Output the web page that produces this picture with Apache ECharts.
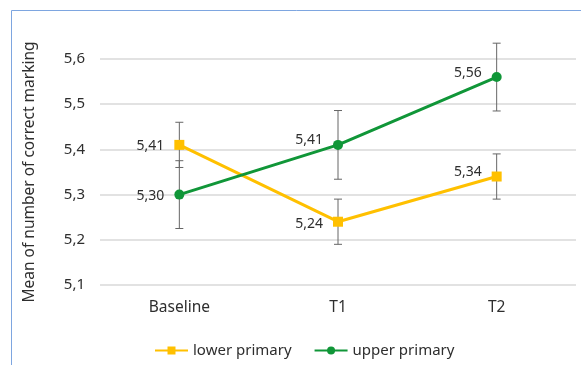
<!DOCTYPE html>
<html>
<head>
<meta charset="utf-8">
<script src="https://cdn.jsdelivr.net/npm/echarts@6/dist/echarts.min.js"></script>
<style>
  html, body { margin: 0; padding: 0; background: #fff; }
  #chart { width: 581px; height: 365px; }
</style>
</head>
<body>
<div id="chart"></div>
<script>
// Time points of the measurement
const categories = ['Baseline', 'T1', 'T2'];

// Group means and their error-bar half widths
const lowerPrimary = [5.41, 5.24, 5.34];
const lowerPrimaryErr = [0.05, 0.05, 0.05];
const upperPrimary = [5.30, 5.41, 5.56];
const upperPrimaryErr = [0.075, 0.076, 0.075];

const seriesNames = ['lower primary', 'upper primary'];
const yTicks = { min: 5.1, max: 5.6, interval: 0.1 };

const YELLOW = '#FFC000';
const GREEN = '#109638';
const TEXT = '#2e2e2e';
const FONT = 'Noto Sans';

const fmt = (v, d) => v.toFixed(d).replace('.', ',');

function errorBars(means, errs) {
  return means.map((m, i) => [i, m - errs[i], m + errs[i]]);
}

function renderErrorBar(params, api) {
  const x = api.value(0);
  const lo = api.coord([x, api.value(1)]);
  const hi = api.coord([x, api.value(2)]);
  const cap = 4;
  const style = { stroke: '#666666', lineWidth: 1 };
  return {
    type: 'group',
    children: [
      { type: 'line', shape: { x1: hi[0], y1: hi[1], x2: lo[0], y2: lo[1] }, style },
      { type: 'line', shape: { x1: hi[0] - cap, y1: hi[1], x2: hi[0] + cap, y2: hi[1] }, style },
      { type: 'line', shape: { x1: lo[0] - cap, y1: lo[1], x2: lo[0] + cap, y2: lo[1] }, style }
    ]
  };
}

const labelStyle = {
  show: true,
  position: 'left',
  distance: 10,
  color: TEXT,
  fontFamily: FONT,
  fontSize: 14,
  formatter: p => fmt(p.value, 2)
};

function lineSeries(name, values, color, symbol, labelOffsets) {
  return {
    name,
    type: 'line',
    z: 3,
    data: values.map((v, i) => ({
      value: v,
      label: { offset: labelOffsets[i] }
    })),
    symbol,
    symbolSize: 10,
    lineStyle: { color, width: 3 },
    itemStyle: { color },
    label: labelStyle,
    emphasis: { disabled: true }
  };
}

const chart = echarts.init(document.getElementById('chart'), null, { renderer: 'canvas' });

chart.setOption({
  animation: false,
  backgroundColor: '#ffffff',
  grid: { left: 100, right: 5, top: 59, bottom: 80 },
  legend: {
    data: seriesNames,
    left: 149,
    top: 338,
    itemWidth: 33,
    itemHeight: 10,
    itemGap: 22,
    textStyle: { color: TEXT, fontFamily: FONT, fontSize: 15 }
  },
  xAxis: {
    type: 'category',
    data: categories,
    boundaryGap: true,
    axisLine: { show: false },
    axisTick: { show: false },
    axisLabel: { color: TEXT, fontFamily: FONT, fontSize: 15.5, margin: 15 }
  },
  yAxis: {
    type: 'value',
    min: yTicks.min,
    max: yTicks.max,
    interval: yTicks.interval,
    name: 'Mean of number of correct marking',
    nameLocation: 'middle',
    nameGap: 62,
    nameTextStyle: { color: TEXT, fontFamily: FONT, fontSize: 15.5 },
    axisLine: { show: false },
    axisTick: { show: false },
    axisLabel: {
      color: TEXT, fontFamily: FONT, fontSize: 15, margin: 15,
      formatter: v => fmt(v, 1)
    },
    splitLine: { lineStyle: { color: '#d9d9d9', width: 1.5 } }
  },
  series: [
    {
      type: 'custom',
      z: 2,
      silent: true,
      renderItem: renderErrorBar,
      data: errorBars(lowerPrimary, lowerPrimaryErr)
    },
    {
      type: 'custom',
      z: 2,
      silent: true,
      renderItem: renderErrorBar,
      data: errorBars(upperPrimary, upperPrimaryErr)
    },
    lineSeries(seriesNames[0], lowerPrimary, YELLOW, 'rect', [[0, 1], [0, 2], [0, -5]]),
    lineSeries(seriesNames[1], upperPrimary, GREEN, 'circle', [[0, 1], [0, -5], [0, -4]])
  ],
  graphic: [
    { type: 'line', shape: { x1: 11.5, y1: 10.5, x2: 581, y2: 10.5 }, style: { stroke: '#7ea6e0', lineWidth: 1 } },
    { type: 'line', shape: { x1: 11.5, y1: 10.5, x2: 11.5, y2: 365 }, style: { stroke: '#7ea6e0', lineWidth: 1 } }
  ]
});
</script>
</body>
</html>
